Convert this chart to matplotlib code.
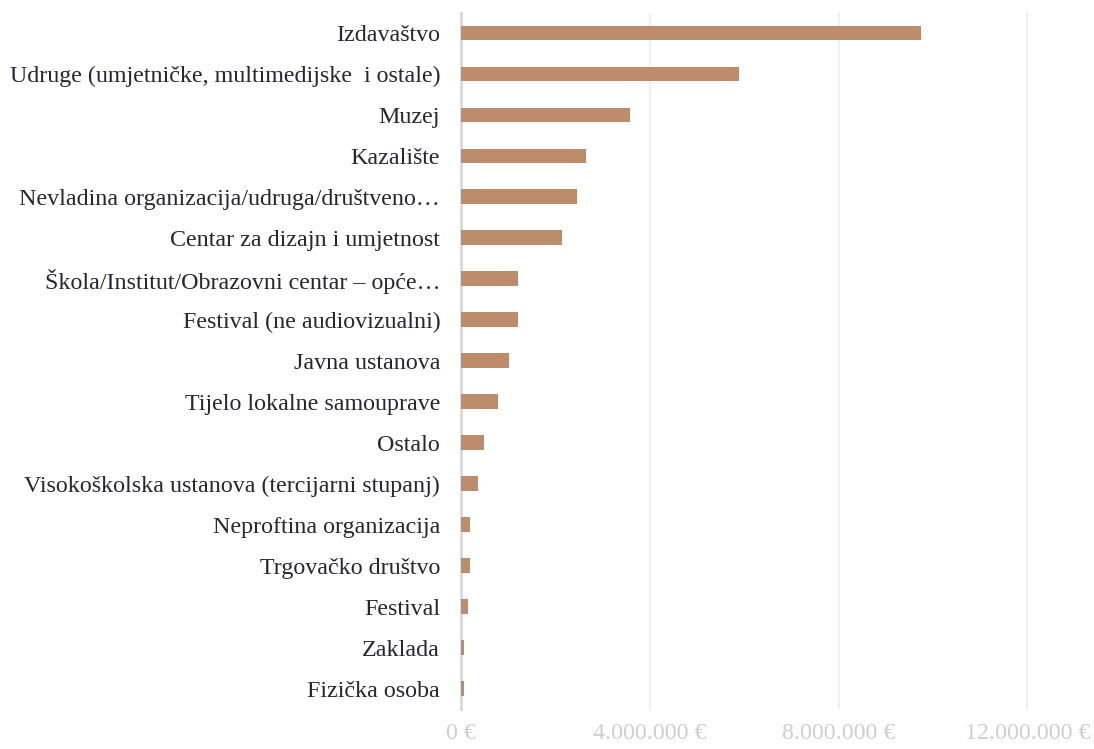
import matplotlib
matplotlib.use("Agg")
import matplotlib.pyplot as plt
from matplotlib.ticker import FuncFormatter

categories = [
    "Izdavaštvo",
    "Udruge (umjetničke, multimedijske  i ostale)",
    "Muzej",
    "Kazalište",
    "Nevladina organizacija/udruga/društveno…",
    "Centar za dizajn i umjetnost",
    "Škola/Institut/Obrazovni centar – opće…",
    "Festival (ne audiovizualni)",
    "Javna ustanova",
    "Tijelo lokalne samouprave",
    "Ostalo",
    "Visokoškolska ustanova (tercijarni stupanj)",
    "Neproftina organizacija",
    "Trgovačko društvo",
    "Festival",
    "Zaklada",
    "Fizička osoba",
]
values = [9740000, 5900000, 3580000, 2650000, 2450000, 2140000, 1210000,
          1210000, 1020000, 780000, 490000, 360000, 190000, 190000, 150000,
          70000, 70000]
xticks = [0, 4000000, 8000000, 12000000]

plt.rcParams['font.family'] = ['Liberation Serif', 'DejaVu Serif']

fig = plt.figure(figsize=(10.94, 7.49), dpi=100)
ax = fig.add_axes([0.4214, 0.0534, 0.965 - 0.4214, 0.9833 - 0.0534])

ypos = list(range(len(categories)))
ax.barh(ypos, values, height=0.36, color='#BC8C6B', zorder=3)
ax.set_ylim(len(categories) - 0.5, -0.5)
ax.set_xlim(0, 12600000)
ax.set_yticks(ypos)
ax.set_yticklabels(categories, fontsize=17.3, color='#262637')
for t in ax.get_yticklabels():
    t.set_verticalalignment('center_baseline')
ax.set_xticks(xticks)
ax.xaxis.set_major_formatter(FuncFormatter(lambda v, p: f"{int(v):,}".replace(",", ".") + " €"))
ax.tick_params(axis='x', labelsize=17.3, labelcolor='#CFCFCF', length=0, pad=10)
ax.tick_params(axis='y', length=0, pad=15)
ax.grid(axis='x', color='#EEEEE6', linewidth=1.2, zorder=0)
for s in ['top', 'right', 'bottom']:
    ax.spines[s].set_visible(False)
ax.spines['left'].set_color('#D9D9D9')
ax.spines['left'].set_linewidth(2)
ax.spines['left'].set_zorder(2)

fig.savefig("out.png", dpi=100)
